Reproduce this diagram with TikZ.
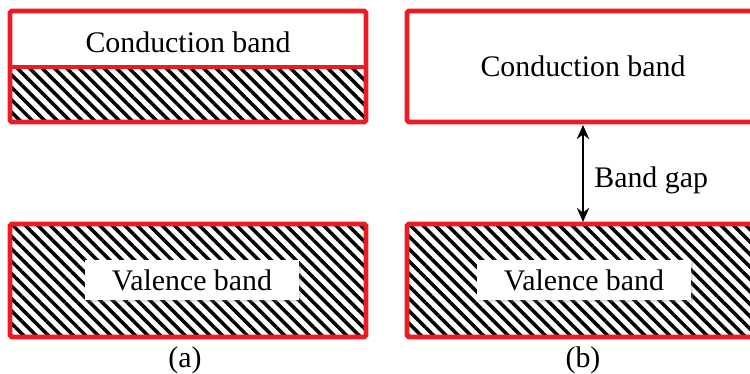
\documentclass[tikz,border=0pt]{standalone}
\usepackage{fontspec}
\setmainfont{Liberation Serif}
\usetikzlibrary{patterns.meta,arrows.meta,shadows}
\definecolor{bandred}{RGB}{237,28,36}
\tikzset{
	bandbox/.style={draw=bandred, line width=2.8pt, rounded corners=1pt},
	hatched/.style={pattern={Lines[angle=-45,distance=5pt,line width=2pt]}},
	bandlabel/.style={font=\fontsize{17}{20}\selectfont, inner sep=0pt},
	vallabel/.style={bandlabel, fill=white, minimum width=4.3cm, minimum height=0.8cm,
		drop shadow={shadow xshift=1pt, shadow yshift=-1pt, opacity=0.25, fill=gray}},
	gaparrow/.style={{Stealth[length=8pt,width=7pt]}-{Stealth[length=8pt,width=7pt]}, line width=1.4pt},
}

\begin{document}
\begin{tikzpicture}[x=0.02cm,y=-0.02cm]
	\clip (0,0) rectangle (750,374);

	% (a) conduction band overlaps valence band
	\fill[hatched] (10,67) rectangle (366,122);
	\draw[bandred, line width=2.4pt] (10,67) -- (366,67);
	\draw[bandbox] (10,11) rectangle (366,122);
	\fill[hatched] (10,224) rectangle (366,337);
	\draw[bandbox] (10,224) rectangle (366,337);
	\node[bandlabel, anchor=base] (condA) at (188,53)     {Conduction band};
	\node[vallabel] (valA) at (192,280)     {Valence band};
	\node[bandlabel, anchor=base] (capA) at (185,368)     {(a)};

	% (b) band gap
	\draw[bandbox] (407,11) rectangle (760,122);
	\fill[hatched] (407,224) rectangle (760,337);
	\draw[bandbox] (407,224) rectangle (760,337);
	\node[bandlabel, anchor=base] (condB) at (583,77)     {Conduction band};
	\node[vallabel] (valB) at (584,280)     {Valence band};
	\node[bandlabel, anchor=base] (capB) at (583,368)     {(b)};

	\coordinate (gapTop) at (583,125);
	\coordinate (gapBot) at (583,222);
	\draw[gaparrow] (gapTop) -- (gapBot);
	\node[bandlabel, anchor=base west] (gapB) at (594,188)     {Band gap};
\end{tikzpicture}
\end{document}
